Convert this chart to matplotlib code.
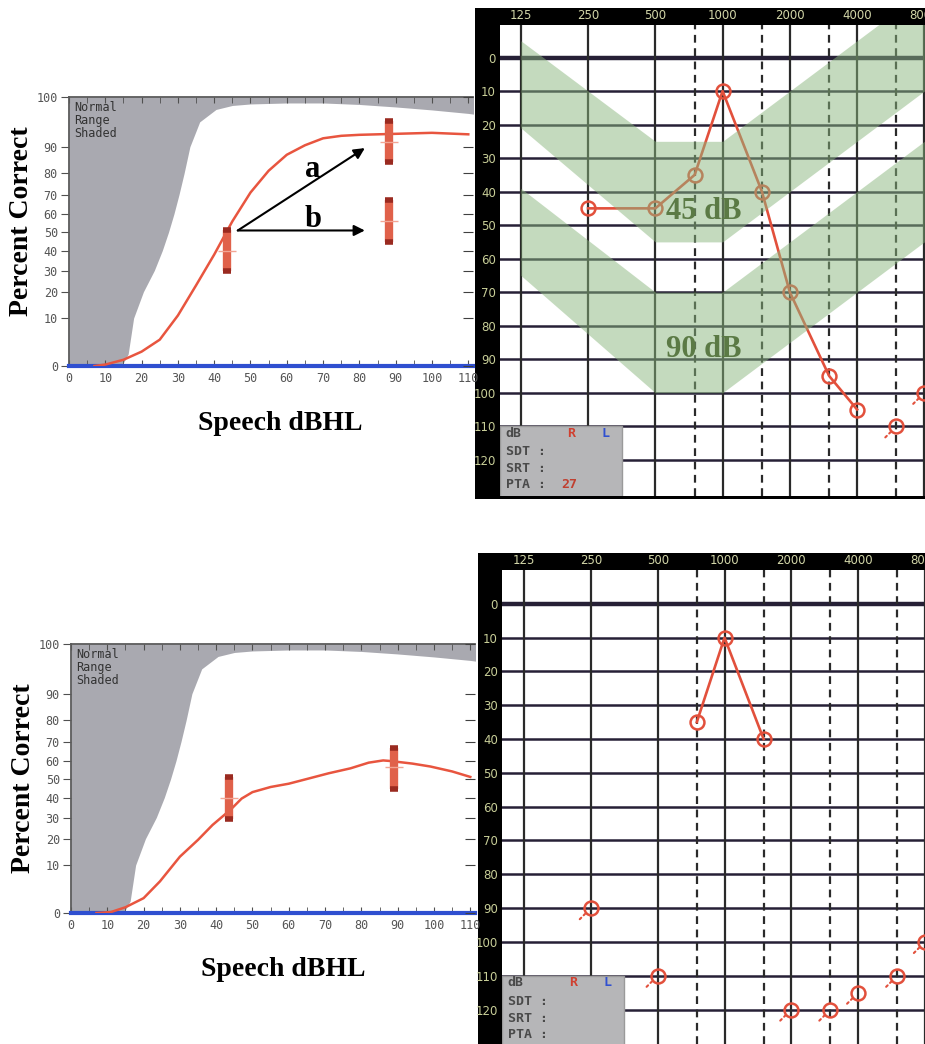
import numpy as np
import matplotlib.pyplot as plt
from matplotlib.patches import Rectangle

W, H = 925, 1044

# --- courbes performance-intensité (PI) ---
pct_ticks = [0, 10, 20, 30, 40, 50, 60, 70, 80, 90, 100]
pct_pos = [0, 0.178, 0.276, 0.355, 0.429, 0.497, 0.565, 0.637, 0.716, 0.815, 1.0]
speech_ticks = list(range(0, 111, 10))

# limite inférieure de la zone normale (grisée)
norm_x = [0, 14.5, 16.3, 17.8, 20.5, 23.5, 25.7, 27.4, 28.9, 30.3, 31.7, 33.3, 36, 40.5, 45, 50, 60, 70, 80, 90, 100, 110, 112]
norm_y = [0, 0, 2.5, 10, 20, 30, 40, 50, 60, 70, 80, 90, 95, 97.5, 98.3, 98.6, 98.8, 98.8, 98.5, 98, 97.4, 96.7, 96.5]

pi1_x = [7, 10, 15, 20, 25, 30, 35, 40, 45, 50, 55, 60, 65, 70, 75, 80, 90, 100, 110]
pi1_y = [0, 0.3, 1.3, 3, 5.5, 11, 23, 38, 56, 71, 81, 87, 90.3, 91.7, 92.2, 92.4, 92.6, 92.8, 92.5]
bar1_x = [43.4, 88.2, 88.2]
bar1_lo = [30, 84.4, 44.7]
bar1_mid = [40, 91, 56]
bar1_hi = [51, 95.2, 67.2]

pi2_x = [7, 11, 15, 20, 24.5, 30, 35, 39, 44, 47, 50, 55, 60, 66, 71, 77, 82, 86, 88, 94, 99, 105, 110]
pi2_y = [0, 0.2, 1.2, 3.1, 6.6, 13.2, 19.6, 26.5, 34, 39.5, 43, 45.8, 47.6, 50.7, 53.3, 56, 59.1, 60.3, 60, 58.6, 57, 54.3, 51.3]
bar2_x = [43.5, 88.9]
bar2_lo = [29.2, 44.5]
bar2_mid = [40, 57]
bar2_hi = [51, 66.6]

# flèches a / b (panneau du haut)
fl_depart = (46.5, 51)
fl_a = (81.5, 89.5)
fl_b = (81.5, 51)

# --- audiogrammes ---
freq_ticks = [125, 250, 500, 1000, 2000, 4000, 8000]
freq_labels = ['125', '250', '500', '1000', '2000', '4000', '8000']
half_oct = [750, 1500, 3000, 6000]
db_ticks = list(range(0, 121, 10))

aud1_f = [250, 500, 750, 1000, 1500, 2000, 3000, 4000]
aud1_db = [45, 45, 35, 10, 40, 70, 95, 105]
aud1_nr_f = [6000, 8000]
aud1_nr_db = [110, 100]

aud2_f = [750, 1000, 1500]
aud2_db = [35, 10, 40]
aud2_nr_f = [250, 500, 2000, 3000, 4000, 6000, 8000]
aud2_nr_db = [90, 110, 120, 120, 115, 110, 100]

band_f = [125, 500, 1000, 8000]
band45_top = [-5, 25, 25, -20]
band45_bot = [21, 55, 55, 10]
band90_top = [39, 70, 70, 25]
band90_bot = [65, 100, 100, 55]
band_labels = ['45 dB', '90 dB']
band_label_f = [820, 820]
band_label_db = [46, 87]

RED = '#e2503c'
SERIF = 'Liberation Serif'
MONO = 'DejaVu Sans Mono'

fig = plt.figure(figsize=(W / 100, H / 100), dpi=100)


def add_ax(x0, y0, x1, y1):
    return fig.add_axes([x0 / W, 1 - y1 / H, (x1 - x0) / W, (y1 - y0) / H])


def fwd(v):
    return np.interp(v, pct_ticks, pct_pos)


def inv(p):
    return np.interp(p, pct_pos, pct_ticks)


def panneau_pi(box, cx, cy, bx, blo, bmid, bhi, lab_y, lab_x):
    ax = add_ax(*box)
    ax.set_yscale('function', functions=(fwd, inv))
    ax.fill_between(norm_x, norm_y, 100, color='#a9a9b0', lw=0, zorder=1)
    ax.plot(cx, cy, color='#e8553f', lw=1.8, zorder=3)
    ax.vlines(bx, blo, bhi, color='#e0614a', lw=6, zorder=4)
    ax.plot(bx, blo, ls='none', marker='_', ms=6, mew=4, color='#9a2a20', zorder=5)
    ax.plot(bx, bhi, ls='none', marker='_', ms=6, mew=4, color='#9a2a20', zorder=5)
    ax.plot(bx, bmid, ls='none', marker='_', ms=13, mew=1, color='#f2a594', zorder=5)
    ax.set_xlim(0, 111.3)
    ax.set_ylim(0, 100)
    ax.set_xticks(speech_ticks)
    ax.set_xticks(range(0, 112, 5), minor=True)
    ax.set_yticks(pct_ticks)
    ax.set_yticklabels([str(t) for t in pct_ticks])
    ax.yaxis.set_minor_locator(plt.NullLocator())
    ax.tick_params(axis='x', which='both', direction='in', length=4, top=True,
                   color='#505050', labelsize=8.5, labelcolor='#555555', pad=4)
    ax.tick_params(axis='y', direction='out', length=6, color='#505050',
                   labelsize=8.5, labelcolor='#555555', pad=2)
    for lab in ax.get_xticklabels() + ax.get_yticklabels():
        lab.set_family(MONO)
    ax2 = ax.twinx()
    ax2.set_yscale('function', functions=(fwd, inv))
    ax2.set_ylim(0, 100)
    ax2.set_yticks(pct_ticks)
    ax2.yaxis.set_minor_locator(plt.NullLocator())
    ax2.tick_params(direction='in', length=7, color='#404040', labelright=False)
    for s in ax2.spines.values():
        s.set_visible(False)
    ax.spines['right'].set_visible(False)
    for s in ('left', 'top'):
        ax.spines[s].set_color('#5a5a5a')
        ax.spines[s].set_linewidth(1.3)
    ax.spines['bottom'].set_color('#2f4fd0')
    ax.spines['bottom'].set_linewidth(3)
    ax.text(0.012, 0.985, 'Normal\nRange\nShaded', transform=ax.transAxes, va='top',
            ha='left', family=MONO, fontsize=8.5, color='#333333', linespacing=1.0, zorder=6)
    fig.text(lab_y[0] / W, 1 - lab_y[1] / H, 'Percent Correct', rotation=90, ha='center',
             va='center', family=SERIF, weight='bold', fontsize=20)
    fig.text(lab_x[0] / W, 1 - lab_x[1] / H, 'Speech dBHL', ha='center', va='center',
             family=SERIF, weight='bold', fontsize=20)
    return ax


def audiogramme(frame, box, oct_lim, db_lim, f_lig, db_lig, f_nr, db_nr, bandes, pta):
    x0, y0, x1, y1 = frame
    fig.add_artist(Rectangle((x0 / W, 1 - y1 / H), (x1 - x0) / W, (y1 - y0) / H,
                             transform=fig.transFigure, facecolor='black',
                             edgecolor='none', zorder=-1))
    ax = add_ax(*box)
    ax.set_facecolor('white')
    ax.set_xscale('log', base=2)
    xlim = (125 * 2 ** oct_lim[0], 125 * 2 ** oct_lim[1])
    ax.set_xlim(*xlim)
    ax.set_ylim(*db_lim)
    ax.set_xticks(freq_ticks)
    ax.set_xticklabels(freq_labels)
    ax.minorticks_off()
    ax.set_yticks(db_ticks)
    ax.set_yticklabels([str(d) for d in db_ticks])
    ax.xaxis.tick_top()
    ax.tick_params(axis='x', length=0, pad=2, labelsize=8.5, labelcolor='#d2d6a8')
    ax.tick_params(axis='y', length=0, pad=3, labelsize=8.5, labelcolor='#c8ce98')
    for s in ax.spines.values():
        s.set_visible(False)

    for d in db_ticks:
        ax.axhline(d, color='#262036', lw=3.2 if d == 0 else 1.8, zorder=1)
    for f in freq_ticks:
        ax.axvline(f, color='#2a2a2a', lw=1.6, zorder=1)
    for f in half_oct:
        ax.axvline(f, color='#2a2a2a', lw=1.6, ls=(0, (3.5, 2.5)), zorder=1)

    ax.plot(f_lig, db_lig, color=RED, lw=1.9, marker='o', ms=10, mfc='none', mew=1.8, zorder=2)
    ax.plot(f_nr, db_nr, ls='none', marker='o', ms=10, mfc='none', mew=1.8, color=RED, zorder=2)
    for f, d in zip(f_nr, db_nr):
        ax.annotate('', xy=(f, d), xytext=(-8, -8), textcoords='offset points',
                    arrowprops=dict(arrowstyle='-', color=RED, lw=1.5, ls=':',
                                    shrinkA=0, shrinkB=6), zorder=2)

    if bandes:
        for top, bot in ((band45_top, band45_bot), (band90_top, band90_bot)):
            ax.fill_between(band_f, top, bot, color='#8bb77f', alpha=0.5, lw=0, zorder=3)
        for lab, f, d in zip(band_labels, band_label_f, band_label_db):
            ax.text(f, d, lab, ha='center', va='center', family=SERIF, weight='bold',
                    fontsize=22, color='#5b7a45', zorder=4)

    boite = Rectangle((xlim[0], 110), 354 - xlim[0], 40, facecolor='#b6b6b8',
                      edgecolor='#9a9a9a', lw=1, zorder=5)
    ax.add_patch(boite)
    lignes = ['dB', 'SDT :', 'SRT :', 'PTA :']
    dy = [-5, -18.5, -30.5, -42]
    for txt, y in zip(lignes, dy):
        ax.annotate(txt, xy=(0, 1), xycoords=boite, xytext=(4, y), textcoords='offset points',
                    ha='left', va='center', family=MONO, weight='bold', fontsize=9.5,
                    color='#4a4a4a', zorder=6)
    ax.annotate('R', xy=(0, 1), xycoords=boite, xytext=(51, -5), textcoords='offset points',
                ha='center', va='center', family=MONO, weight='bold', fontsize=9.5,
                color='#d04030', zorder=6)
    ax.annotate('L', xy=(0, 1), xycoords=boite, xytext=(76, -5), textcoords='offset points',
                ha='center', va='center', family=MONO, weight='bold', fontsize=9.5,
                color='#3050d0', zorder=6)
    if pta:
        ax.annotate(pta, xy=(0, 1), xycoords=boite, xytext=(44, -42), textcoords='offset points',
                    ha='left', va='center', family=MONO, weight='bold', fontsize=9.5,
                    color='#c04030', zorder=6)
    return ax


# panneau du haut
ax1 = panneau_pi((69, 97, 473, 366), pi1_x, pi1_y, bar1_x, bar1_lo, bar1_mid, bar1_hi,
                 (22, 221), (280, 423))
for fin in (fl_a, fl_b):
    ax1.annotate('', xy=fin, xytext=fl_depart,
                 arrowprops=dict(arrowstyle='-|>', color='black', lw=1.5,
                                 mutation_scale=16, shrinkA=0, shrinkB=0), zorder=6)
ax1.text(67, 81.5, 'a', ha='center', va='center', family=SERIF, weight='bold', fontsize=22)
ax1.text(67.3, 57, 'b', ha='center', va='center', family=SERIF, weight='bold', fontsize=22)

audiogramme((475, 8, 925, 499), (500, 25, 925, 496), (-0.31, 6.01), (130.8, -9.7),
            aud1_f, aud1_db, aud1_nr_f, aud1_nr_db, True, '27')

# panneau du bas
panneau_pi((71, 644, 475, 913), pi2_x, pi2_y, bar2_x, bar2_lo, bar2_mid, bar2_hi,
           (24, 778), (283, 970))
audiogramme((478, 553, 925, 1044), (502, 570, 925, 1044), (-0.33, 5.97), (130.2, -10),
            aud2_f, aud2_db, aud2_nr_f, aud2_nr_db, False, None)

fig.savefig('out.png', dpi=100)
